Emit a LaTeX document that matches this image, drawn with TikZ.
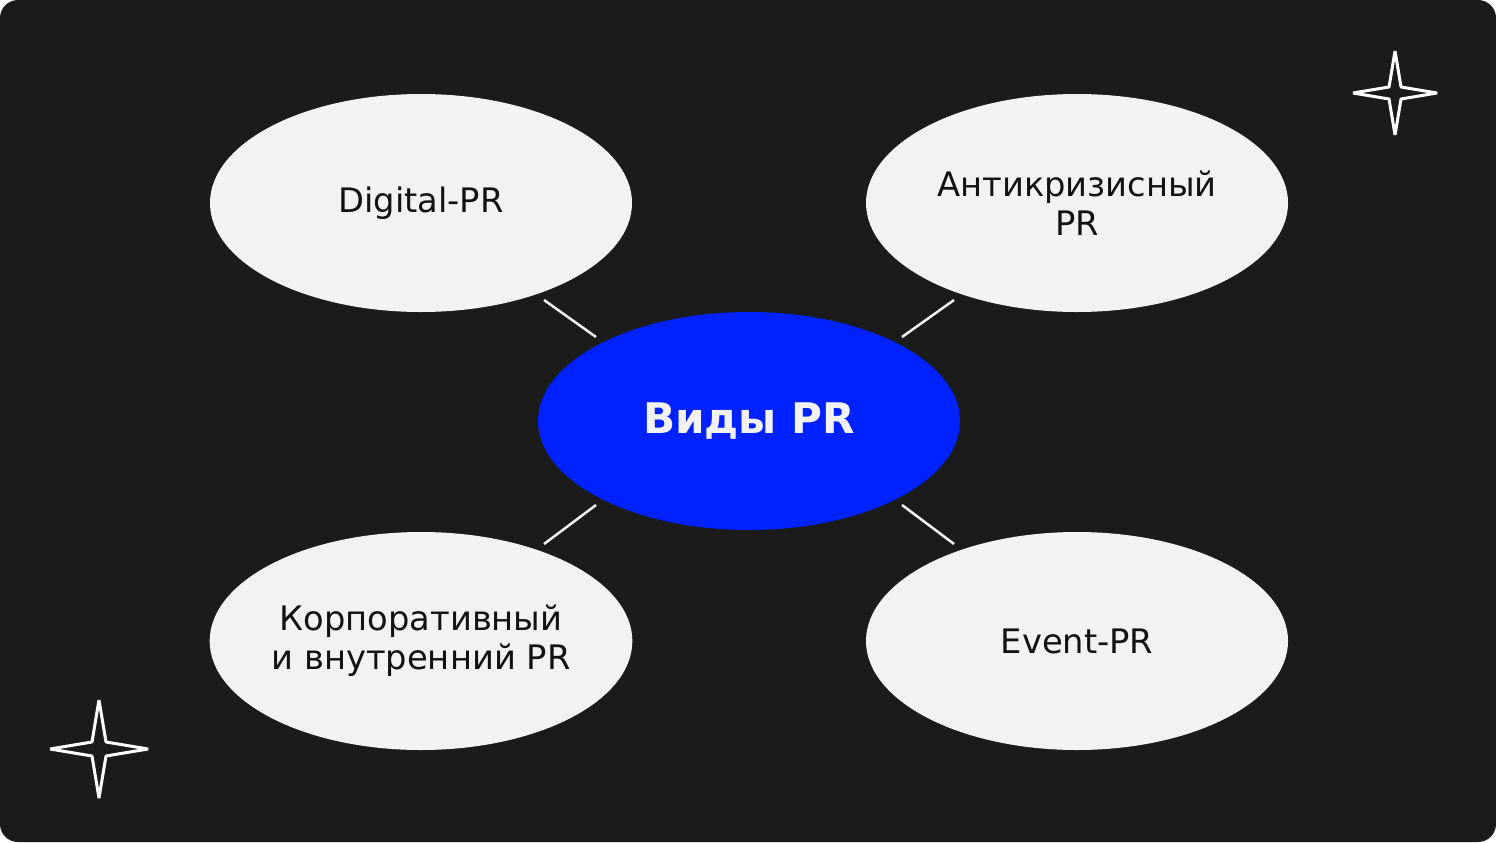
\documentclass[tikz,border=0pt]{standalone}
\usepackage{fontspec}
\setmainfont{DejaVu Sans}
\usetikzlibrary{calc,shapes.geometric}
\definecolor{board}{HTML}{1B1B1B}
\definecolor{oval}{HTML}{F2F2F2}
\definecolor{mainblue}{HTML}{0022FF}
\def\sparkle(#1)(#2:#3){\draw[line width=0.3mm, color=white, line join=bevel] ($(#1)+(0,#2)$) -- ($(#1)+(#3,#3)$) -- ($(#1)+(#2,0)$) -- ($(#1)+(#3,-#3)$) -- ($(#1)+(0,-#2)$) -- ($(#1)+(-#3,-#3)$) -- ($(#1)+(-#2,0)$) -- ($(#1)+(-#3,#3)$) -- cycle;}
\tikzset{
	kind/.style={ellipse, fill=oval, minimum width=4.22cm, minimum height=2.18cm, inner sep=0pt, align=center, font=\fontsize{9.6}{11}\selectfont, text=black!93},
	core/.style={kind, fill=mainblue, text=oval, font=\fontsize{12}{14}\selectfont\bfseries},
	link/.style={line width=0.25mm, color=oval}
}

\begin{document}
\begin{tikzpicture}
		%%%%% START %%%%%
		
		\useasboundingbox (0, 0) rectangle (14.96, 8.42);
		\fill[white] (0, 0) rectangle (14.96, 8.42);
		\fill[board, rounded corners=0.18cm] (0, 0) rectangle (14.96, 8.42);
		
		\node[core] (types) at (7.49, 4.21) {Виды PR};
		
		\node[kind] (digital) at (4.21, 6.39) {Digital-PR};
		\node[kind] (crisis) at (10.77, 6.39) {Антикризисный\\PR};
		\node[kind] (corporate) at (4.21, 2.01) {Корпоративный\\и внутренний PR};
		\node[kind] (event) at (10.77, 2.01) {Event-PR};
		
		\draw[link] ($(types)+(-1.53, 0.84)$) -- ($(digital)+(1.23, -0.97)$);
		\draw[link] ($(types)+(1.53, 0.84)$) -- ($(crisis)+(-1.23, -0.97)$);
		\draw[link] ($(types)+(-1.53, -0.84)$) -- ($(corporate)+(1.23, 0.97)$);
		\draw[link] ($(types)+(1.53, -0.84)$) -- ($(event)+(-1.23, 0.97)$);
		
		\coordinate (sparkA) at (13.95, 7.49);
		\coordinate (sparkB) at (0.99, 0.93);
		\sparkle(sparkA)(0.42:0.06)
		\sparkle(sparkB)(0.49:0.07)
		
		%%%%% END %%%%%
	\end{tikzpicture}
\end{document}
